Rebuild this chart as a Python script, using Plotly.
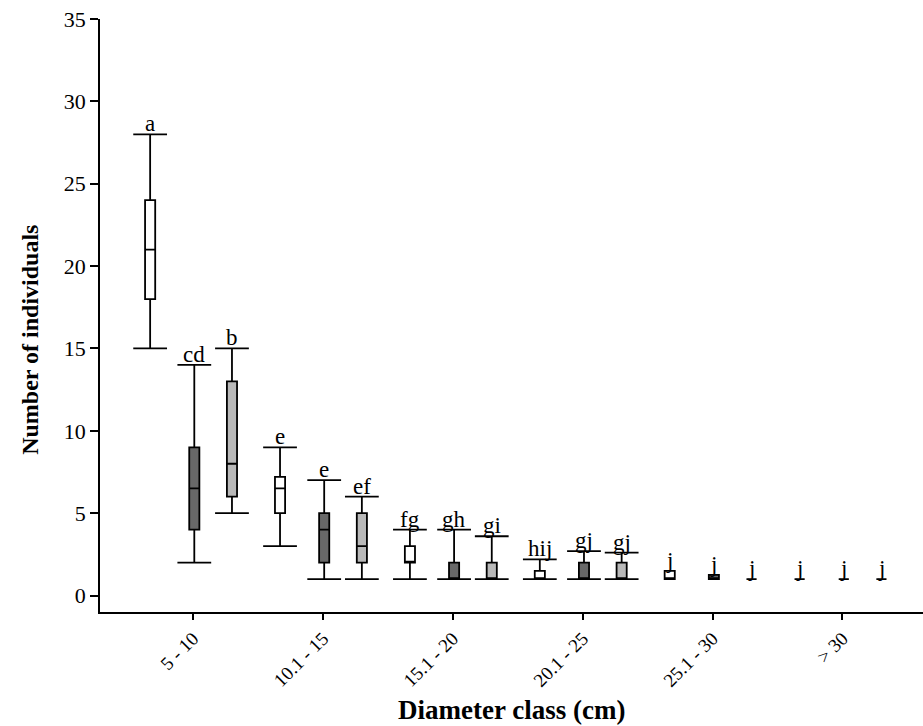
import plotly.graph_objects as go

categories = ["5 - 10", "10.1 - 15", "15.1 - 20", "20.1 - 25", "25.1 - 30", "> 30"]
cat_pos = [1, 2, 3, 4, 5, 6]

# three series per diameter class (white, dark grey, light grey)
white_lf = [15, 3, 1, 1, 1, 1]
white_q1 = [18, 5, 2, 1, 1, 1]
white_med = [21, 6.5, 2, 1, 1, 1]
white_q3 = [24, 7.2, 3, 1.5, 1.5, 1]
white_uf = [28, 9, 4, 2.2, 1.5, 1]
white_letters = ["a", "e", "fg", "hij", "j", "j"]

dark_lf = [2, 1, 1, 1, 1, 1]
dark_q1 = [4, 2, 1, 1, 1, 1]
dark_med = [6.5, 4, 1, 1, 1, 1]
dark_q3 = [9, 5, 2, 2, 1.25, 1]
dark_uf = [14, 7, 4, 2.7, 1.25, 1]
dark_letters = ["cd", "e", "gh", "gj", "j", "j"]

light_lf = [5, 1, 1, 1, 1, 1]
light_q1 = [6, 2, 1, 1, 1, 1]
light_med = [8, 3, 1, 1, 1, 1]
light_q3 = [13, 5, 2, 2, 1, 1]
light_uf = [15, 6, 3.6, 2.6, 1, 1]
light_letters = ["b", "ef", "gi", "gj", "j", "j"]

series = [
    ("white", -0.33, "#ffffff", white_lf, white_q1, white_med, white_q3, white_uf, white_letters),
    ("dark", 0.01, "#686868", dark_lf, dark_q1, dark_med, dark_q3, dark_uf, dark_letters),
    ("light", 0.30, "#b9b9b9", light_lf, light_q1, light_med, light_q3, light_uf, light_letters),
]

FONT = "Liberation Serif"
fig = go.Figure()
annotations = []
cap_half = 0.13

for name, off, color, lf, q1, med, q3, uf, letters in series:
    xs = [p + off for p in cat_pos]
    fig.add_trace(go.Box(
        x=xs, q1=q1, median=med, q3=q3, lowerfence=lf, upperfence=uf,
        width=0.078, fillcolor=color, line=dict(color="black", width=1.8),
        whiskerwidth=0, boxpoints=False, name=name, showlegend=False,
    ))
    cx, cy = [], []
    for x, l, u, q in zip(xs, lf, uf, q3):
        if u > q:
            cx += [x - cap_half, x + cap_half, None, x - cap_half, x + cap_half, None]
            cy += [u, u, None, l, l, None]
    fig.add_trace(go.Scatter(x=cx, y=cy, mode="lines", line=dict(color="black", width=1.8),
                             showlegend=False, hoverinfo="skip"))
    for x, u, t in zip(xs, uf, letters):
        annotations.append(dict(x=x, y=u, text=t, showarrow=False, xref="x", yref="y",
                                yanchor="bottom", yshift=-4,
                                font=dict(family=FONT, size=23, color="black")))

# axis titles
annotations.append(dict(x=0.5, y=-0.166, xref="paper", yref="paper", showarrow=False,
                        text="<b>Diameter class (cm)</b>", yanchor="middle", xanchor="center",
                        font=dict(family=FONT, size=27, color="black")))
annotations.append(dict(x=-0.085, y=0.459, xref="paper", yref="paper", showarrow=False,
                        text="<b>Number of individuals</b>", textangle=-90,
                        yanchor="middle", xanchor="center",
                        font=dict(family=FONT, size=24, color="black")))

fig.update_layout(
    width=923, height=726,
    margin=dict(l=100, r=0, t=19, b=114),
    plot_bgcolor="white", paper_bgcolor="white",
    boxmode="overlay",
    annotations=annotations,
    xaxis=dict(
        range=[0.284, 6.62], tickvals=cat_pos, ticktext=categories, tickangle=-45,
        showline=True, linecolor="black", linewidth=1.8, ticks="outside", ticklen=6,
        tickcolor="black", tickwidth=1.8, showgrid=False, zeroline=False,
        tickfont=dict(family=FONT, size=19, color="black"),
    ),
    yaxis=dict(
        range=[-1, 35], tickvals=[0, 5, 10, 15, 20, 25, 30, 35],
        showline=True, linecolor="black", linewidth=1.8, ticks="outside", ticklen=8,
        tickcolor="black", tickwidth=1.8, showgrid=False, zeroline=False,
        tickfont=dict(family=FONT, size=22, color="black"),
    ),
)

fig.write_html("out.html", config={"displayModeBar": False},
               post_script="document.body.style.margin='0';")
